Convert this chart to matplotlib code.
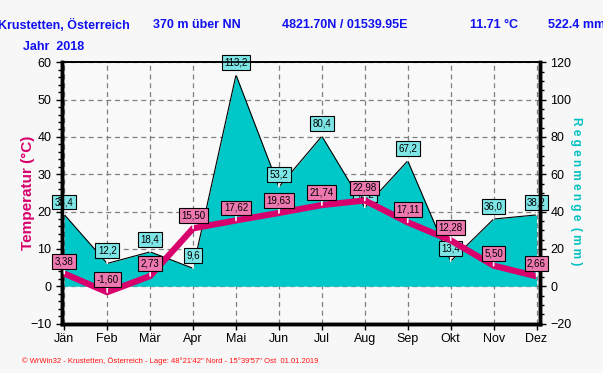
import matplotlib
matplotlib.use("Agg")
import matplotlib.pyplot as plt
from matplotlib.ticker import MultipleLocator

months = ["Jän", "Feb", "Mär", "Apr", "Mai", "Jun",
          "Jul", "Aug", "Sep", "Okt", "Nov", "Dez"]
temp = [3.38, -1.60, 2.73, 15.50, 17.62, 19.63,
        21.74, 22.98, 17.11, 12.28, 5.50, 2.66]
rain = [38.4, 12.2, 18.4, 9.6, 113.2, 53.2,
        80.4, 42.2, 67.2, 13.4, 36.0, 38.2]

BLUE = "#1010f0"
CRIMSON = "#d8006c"
CYAN = "#00c8c8"

plt.rcParams["font.family"] = ["Liberation Sans", "DejaVu Sans"]

fig = plt.figure(figsize=(6.03, 3.73), dpi=100, facecolor="#f7f7f7")
ax = fig.add_axes([0.1023, 0.1327, 0.7932, 0.7003])
ax2 = ax.twinx()

x = list(range(len(months)))

# rain axis sits behind: background, grid, filled area (0..120 mm <-> 0..60 °C)
ax2.patch.set_visible(True)
ax2.set_facecolor("#f9f9f9")
ax.set_zorder(ax2.get_zorder() + 1)
ax.patch.set_visible(False)

ax2.set_ylim(-20, 120)
ax2.yaxis.set_major_locator(MultipleLocator(20))
ax2.yaxis.set_minor_locator(MultipleLocator(5))
ax2.set_axisbelow(True)
ax2.grid(True, axis="y", which="major", ls=(0, (4, 3)), color="#808080", lw=0.9)
for i in x:
    ax2.axvline(i, ls=(0, (4, 3)), color="#808080", lw=0.9, zorder=0.5)
ax2.fill_between(x, rain, 0, color=CYAN, lw=0, zorder=1)
ax2.plot(x, rain, color="black", lw=0.8, zorder=2)

# temperature line on top
ax.plot(x, temp, color=CRIMSON, lw=4.5, solid_capstyle="butt", zorder=5)
ax.set_ylim(-10, 60)
ax.set_xlim(-0.06, 11.08)
ax.yaxis.set_major_locator(MultipleLocator(10))
ax.yaxis.set_minor_locator(MultipleLocator(2))
ax.set_xticks(x)
ax.set_xticklabels(months)

for a in (ax, ax2):
    for s in a.spines.values():
        s.set_color("black")
    a.spines["top"].set_linewidth(1.2)
    a.spines["bottom"].set_linewidth(2.5)
    a.spines["left"].set_linewidth(2.5)
    a.spines["right"].set_linewidth(2.5)
    a.tick_params(labelsize=9, colors="black", length=4, width=1)
    a.tick_params(which="minor", length=3, width=1)
ax.tick_params(axis="x", length=4, pad=3)

# value labels
for i in x:
    ax2.annotate(f"{rain[i]:.1f}".replace(".", ","), (i, rain[i]),
                 xytext=(0, 9), textcoords="offset points", ha="center", va="center",
                 fontsize=7, zorder=6,
                 bbox=dict(boxstyle="square,pad=0.25", fc="#7ee6e6", ec="black", lw=0.8),
                 arrowprops=dict(arrowstyle="-", color="white", lw=1.2, shrinkA=0, shrinkB=0))
for i in x:
    ax.annotate(f"{temp[i]:.2f}".replace(".", ","), (i, temp[i]),
                xytext=(0, 9), textcoords="offset points", ha="center", va="center",
                fontsize=7, zorder=7,
                bbox=dict(boxstyle="square,pad=0.25", fc="#ee78b0", ec="black", lw=0.8),
                arrowprops=dict(arrowstyle="-", color="white", lw=1.2, shrinkA=0, shrinkB=0))

# header
hdr = dict(color=BLUE, fontsize=9, fontweight="bold", va="center")
fig.text(-0.003, 1 - 25 / 373, "Krustetten, Österreich", **hdr)
fig.text(153 / 603, 1 - 25 / 373, "370 m über NN", **hdr)
fig.text(282 / 603, 1 - 25 / 373, "4821.70N / 01539.95E", **hdr)
fig.text(470 / 603, 1 - 25 / 373, "11.71 °C", **hdr)
fig.text(548 / 603, 1 - 25 / 373, "522.4 mm", **hdr)
fig.text(23 / 603, 1 - 47 / 373, "Jahr  2018", **hdr)

fig.text(28 / 603, 1 - 193 / 373, "Temperatur (°C)", color=CRIMSON, fontsize=11,
         fontweight="bold", rotation=90, ha="center", va="center")
fig.text(576 / 603, 1 - 191 / 373, "R e g e n m e n g e  ( m m )", color="#00c0c0",
         fontsize=8.5, fontweight="bold", rotation=-90, ha="center", va="center")

fig.text(22 / 603, 1 - 361 / 373,
         "© WrWin32 - Krustetten, Österreich - Lage: 48°21'42\" Nord - 15°39'57\" Ost  01.01.2019",
         color="#ff1010", fontsize=5.5, va="center")

fig.savefig("out.png", dpi=100, facecolor=fig.get_facecolor())
